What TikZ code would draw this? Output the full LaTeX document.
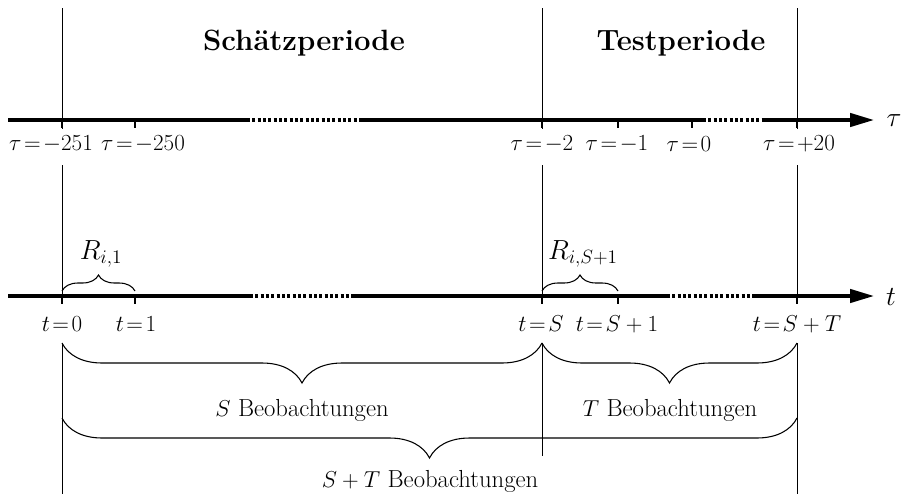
\documentclass[tikz,border=0pt]{standalone}
\usetikzlibrary{arrows.meta,decorations.pathreplacing}
\begin{document}
\begin{tikzpicture}[x=0.75pt,y=-0.75pt,
  axis/.style={line width=2.6pt},
  dotseg/.style={line width=2.6pt, dash pattern=on 2.2pt off 1.8pt},
  tickmark/.style={line width=2.2pt},
  vline/.style={line width=0.6pt},
  lbl/.style={font=\fontsize{17}{20}\selectfont, inner sep=1pt},
  ttl/.style={font=\fontsize{22}{26}\selectfont\bfseries, inner sep=1pt},
  obs/.style={font=\fontsize{18.5}{22}\selectfont, inner sep=1pt},
  rlbl/.style={font=\fontsize{20}{24}\selectfont, inner sep=1pt},
  axlbl/.style={font=\fontsize{22}{26}\selectfont, inner sep=1pt},
  brc/.style={decorate, decoration={brace, amplitude=#1}, line width=0.8pt},
  tip/.style={-{Triangle[length=18pt,width=10pt]}}
]
\useasboundingbox (0,0) rectangle (908,494);

% titles
\node[ttl] (schaetz) at (304,43) {Sch\"atzperiode};
\node[ttl] (test) at (681,43) {Testperiode};

% coordinates of the tau axis
\coordinate (tauS) at (8,120);
\coordinate (tau1) at (62,120);
\coordinate (tau2) at (135,120);
\coordinate (tauD1a) at (247,120);
\coordinate (tauD1b) at (360,120);
\coordinate (tau3) at (542,120);
\coordinate (tau4) at (618,120);
\coordinate (tau5) at (692,120);
\coordinate (tauD2a) at (703,120);
\coordinate (tauD2b) at (764,120);
\coordinate (tau6) at (797,120);
\coordinate (tauE) at (874,120);

\draw[axis] (tauS) -- (tauD1a);
\draw[dotseg] (tauD1a) -- (tauD1b);
\draw[axis] (tauD1b) -- (tauD2a);
\draw[dotseg] (tauD2a) -- (tauD2b);
\draw[axis,tip] (tauD2b) -- (tauE);
\node[axlbl] (taulbl) at (894,121) {$\tau$};

\foreach \c in {tau1,tau2,tau3,tau4,tau5,tau6}
  \draw[tickmark] (\c) -- ++(0,8);

\node[lbl] (l1) at (51,144) {$\tau\!=\!-251$};
\node[lbl] (l2) at (143,144) {$\tau\!=\!-250$};
\node[lbl] (l3) at (542,144) {$\tau\!=\!-2$};
\node[lbl] (l4) at (617,144) {$\tau\!=\!-1$};
\node[lbl] (l5) at (689,144) {$\tau\!=\!0$};
\node[lbl] (l6) at (799,144) {$\tau\!=\!+20$};

% coordinates of the t axis
\coordinate (tS) at (8,296);
\coordinate (t1) at (62,296);
\coordinate (t2) at (135,296);
\coordinate (tD1a) at (250,296);
\coordinate (tD1b) at (352,296);
\coordinate (t3) at (542,296);
\coordinate (t4) at (618,296);
\coordinate (tD2a) at (667,296);
\coordinate (tD2b) at (754,296);
\coordinate (t6) at (797,296);
\coordinate (tE) at (874,296);

\draw[axis] (tS) -- (tD1a);
\draw[dotseg] (tD1a) -- (tD1b);
\draw[axis] (tD1b) -- (tD2a);
\draw[dotseg] (tD2a) -- (tD2b);
\draw[axis,tip] (tD2b) -- (tE);
\node[axlbl] (tlbl) at (891,297) {$t$};

\foreach \c in {t1,t2,t3,t4,t6}
  \draw[tickmark] (\c) -- ++(0,8);

\node[lbl] (m1) at (62,324) {$t\!=\!0$};
\node[lbl] (m2) at (136,324) {$t\!=\!1$};
\node[lbl] (m3) at (541,324) {$t\!=\!S$};
\node[lbl] (m4) at (617,324) {$t\!=\!S+1$};
\node[lbl] (m6) at (797,324) {$t\!=\!S+T$};

% vertical period lines
\foreach \x/\n/\e in {62/a/494,542/b/456,797/c/494}{
  \coordinate (\n0) at (\x,8);
  \coordinate (\n1) at (\x,129);
  \coordinate (\n2) at (\x,165);
  \coordinate (\n3) at (\x,296);
  \coordinate (\n4) at (\x,343);
  \coordinate (\n5) at (\x,\e);
  \draw[vline] (\n0) -- (\n1);
  \draw[vline] (\n2) -- (\n3);
  \draw[vline] (\n4) -- (\n5);
}

% small braces R
\coordinate (r1a) at (62,291);
\coordinate (r1b) at (135,291);
\coordinate (r2a) at (542,291);
\coordinate (r2b) at (618,291);
\draw[brc=12pt] (r1a) -- (r1b);
\draw[brc=12pt] (r2a) -- (r2b);
\node[rlbl] (R1) at (101,254) {$R_{i,1}$};
\node[rlbl] (R2) at (583,254) {$R_{i,S+1}$};

% lower braces
\draw[brc=30pt] (b4) -- (a4);
\draw[brc=30pt] (c4) -- (b4);
\coordinate (big1) at (62,418);
\coordinate (big2) at (797,418);
\draw[brc=30pt] (big2) -- (big1);

\node[obs] (sobs) at (302,410) {$S$ Beobachtungen};
\node[obs] (tobs) at (670,410) {$T$ Beobachtungen};
\node[obs] (stobs) at (430,481) {$S+T$ Beobachtungen};
\end{tikzpicture}
\end{document}
